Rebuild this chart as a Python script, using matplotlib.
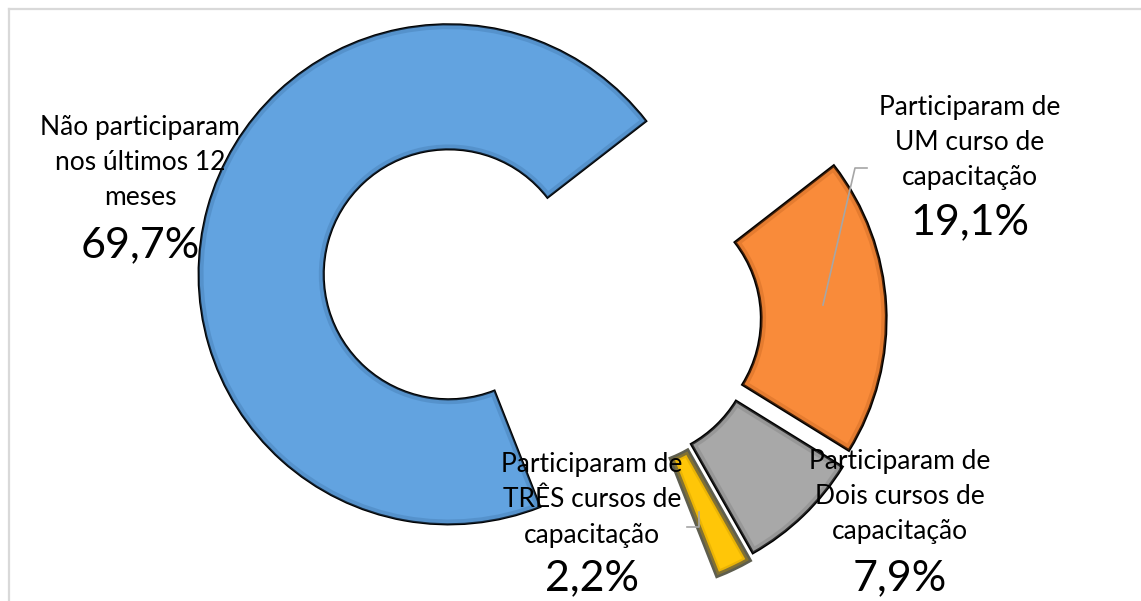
import matplotlib.pyplot as plt
from matplotlib.patches import Wedge

# data
labels = ["Não participaram\nnos últimos 12\nmeses",
          "Participaram de\nUM curso de\ncapacitação",
          "Participaram de\nDois cursos de\ncapacitação",
          "Participaram de\nTRÊS cursos de\ncapacitação"]
values = [69.7, 19.1, 7.9, 2.2]
pct_labels = ["69,7%", "19,1%", "7,9%", "2,2%"]

colors = ["#62A3E0", "#F98B3A", "#A8A8A8", "#FFC608"]
bevel = ["#3F74A8", "#C0601E", "#7A7A7A", "#C79500"]
edges = ["black", "black", "black", "#5E5E4E"]
edge_w = [1.6, 2.0, 2.0, 3.8]
explode = [0.69, 0.085, 0.085, 0.10]

# label positions (data coords, radius = 1)
name_pos = [(-1.90, 0.628), (1.42, 0.71), (1.14, -0.708), (-0.092, -0.72)]
pct_pos = [(-1.90, 0.30), (1.42, 0.392), (1.14, -1.032), (-0.092, -1.032)]

plt.rcParams['font.family'] = ['Lato', 'DejaVu Sans']

fig = plt.figure(figsize=(11.41, 6.01), dpi=100)
ax = fig.add_axes([0, 0, 1, 1])

wedges, _ = ax.pie(values, colors=colors, explode=explode, startangle=-68.5,
                   counterclock=False, radius=1.0,
                   wedgeprops=dict(width=0.5, linewidth=1.5))
for w, ec, lw, bc in zip(wedges, edges, edge_w, bevel):
	w.set_edgecolor(ec)
	w.set_linewidth(lw)
	w.set_joinstyle('miter')
	# soft inner band to hint at the bevel
	b = Wedge(w.center, w.r, w.theta1, w.theta2, width=w.width,
	          facecolor="none", edgecolor=bc, linewidth=7, alpha=0.35)
	ax.add_patch(b)
	b.set_clip_path(w)

# leader lines
ax.plot([0.832, 0.96, 1.008], [0.06, 0.608, 0.608], color="#A6A6A6", lw=1.2, zorder=3)
ax.plot([0.288, 0.336, 0.336], [-0.828, -0.828, -0.768], color="#A6A6A6", lw=1.2, zorder=3)

for lab, pct, p1, p2 in zip(labels, pct_labels, name_pos, pct_pos):
	ax.text(p1[0], p1[1], lab, ha="center", va="center", fontsize=19,
	        linespacing=1.5, zorder=5, color="black")
	ax.text(p2[0], p2[1], pct, ha="center", va="center", fontsize=31,
	        zorder=5, color="black")

ax.set_xlim(-2.46, 2.104)
ax.set_ylim(-1.124, 1.28)
ax.set_aspect("equal")
ax.axis("off")

# chart area border (top and left only visible)
ax.plot([-2.424, 2.104], [1.244, 1.244], color="#D9D9D9", lw=1.6, clip_on=False)
ax.plot([-2.424, -2.424], [1.244, -1.124], color="#D9D9D9", lw=1.6, clip_on=False)

plt.savefig("out.png", dpi=100)
